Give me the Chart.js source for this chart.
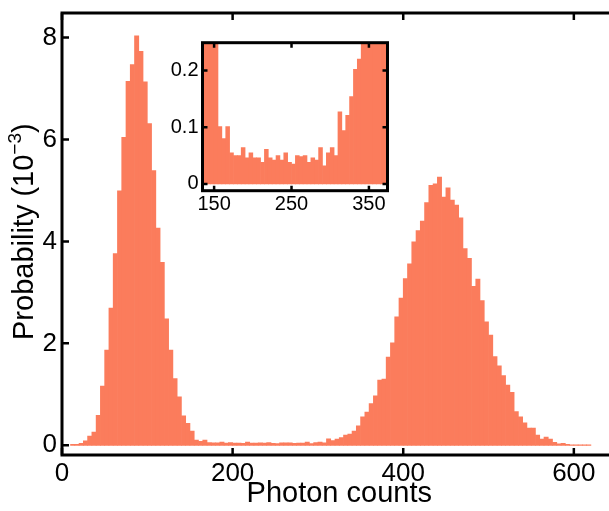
<!DOCTYPE html>
<html>
<head>
<meta charset="utf-8">
<script src="https://cdn.jsdelivr.net/npm/chart.js@4.4.1/dist/chart.umd.min.js"></script>
<style>
  html, body { margin: 0; padding: 0; background: #fff; overflow: hidden; }
  #wrap { position: relative; width: 609px; height: 511px; overflow: hidden; }
  #main { position: absolute; left: 0; top: 0; }
  #inset { position: absolute; left: 140px; top: 30px; }
</style>
</head>
<body>
<div id="wrap">
  <canvas id="main" width="620" height="511"></canvas>
  <canvas id="inset" width="260" height="195"></canvas>
</div>
<script>
// histogram: bins of 5 photon counts, first bin starts at 10
const FIRST_BIN = 10;
const BIN_WIDTH = 5;
// probability per bin, in units of 10^-3
const probability = [
  0.02, 0.02, 0.04, 0.09, 0.18, 0.26, 0.59, 1.16, 1.87, 2.69,      // 10-55
  3.76, 4.99, 6.04, 7.14, 7.47, 8.03, 7.73, 7.13, 6.31, 5.39,      // 60-105
  4.26, 3.59, 2.48, 1.87, 1.31, 0.95, 0.58, 0.43, 0.28, 0.101,     // 110-155
  0.080, 0.101, 0.055, 0.050, 0.050, 0.064, 0.046, 0.055, 0.046, 0.046, // 160-205
  0.038, 0.061, 0.046, 0.042, 0.050, 0.042, 0.055, 0.038, 0.035, 0.050, // 210-255
  0.048, 0.050, 0.038, 0.046, 0.042, 0.064, 0.032, 0.055, 0.064, 0.050, // 260-305
  0.127, 0.094, 0.121, 0.154, 0.202, 0.220, 0.28, 0.38, 0.56, 0.65,     // 310-355
  0.82, 0.97, 1.28, 1.30, 1.73, 2.01, 2.52, 2.89, 3.27, 3.56,      // 360-405
  3.99, 4.21, 4.40, 4.76, 5.10, 5.13, 5.26, 4.87, 5.05, 4.81,      // 410-455
  4.71, 4.46, 3.86, 3.67, 3.12, 3.26, 2.84, 2.42, 2.16, 1.74,      // 460-505
  1.56, 1.37, 1.18, 1.04, 0.66, 0.56, 0.44, 0.34, 0.34, 0.20,      // 510-555
  0.12, 0.16, 0.12, 0.06, 0.03, 0.04, 0.02, 0.01, 0.01, 0.01,      // 560-605
  0.01, 0.01                                                       // 610-615
];

const mainXTicks = [0, 200, 400, 600];
const mainYTicks = [0, 2, 4, 6, 8];
const insetXTicks = [150, 250, 350];
const insetYTicks = [0, 0.1, 0.2];

const BAR_COLOR = "rgb(251, 124, 92)";
const FONT = '"Liberation Sans", Arial, Helvetica, sans-serif';

Chart.defaults.font.family = FONT;
Chart.defaults.color = "#000";

const points = probability.map((p, i) => ({ x: FIRST_BIN + BIN_WIDTH * (i + 0.5), y: p }));

// black frame with inward ticks on all four sides
const frameTicks = {
  id: "frameTicks",
  afterDraw(chart, args, opts) {
    const { ctx, chartArea: a, scales } = chart;
    ctx.save();
    ctx.strokeStyle = "#000";
    ctx.lineWidth = opts.tickWidth;
    ctx.beginPath();
    scales.x.ticks.forEach((t) => {
      const px = scales.x.getPixelForValue(t.value);
      ctx.moveTo(px, a.bottom); ctx.lineTo(px, a.bottom - opts.len);
      ctx.moveTo(px, a.top); ctx.lineTo(px, a.top + opts.len);
    });
    scales.y.ticks.forEach((t) => {
      const py = scales.y.getPixelForValue(t.value);
      ctx.moveTo(a.left, py); ctx.lineTo(a.left + opts.len, py);
      ctx.moveTo(a.right, py); ctx.lineTo(a.right - opts.len, py);
    });
    ctx.stroke();
    ctx.lineWidth = opts.width;
    ctx.strokeRect(a.left, a.top, a.right - a.left, a.bottom - a.top);
    ctx.restore();
  },
};

// y title with a real superscript
const yTitle = {
  id: "yTitle",
  afterDraw(chart) {
    const ctx = chart.ctx;
    ctx.save();
    ctx.fillStyle = "#000";
    ctx.translate(33, 340);
    ctx.rotate(-Math.PI / 2);
    ctx.textAlign = "left";
    ctx.textBaseline = "alphabetic";
    ctx.font = "29px " + FONT;
    const t1 = "Probability (10";
    ctx.fillText(t1, 0, 0);
    let w = ctx.measureText(t1).width;
    ctx.font = "19px " + FONT;
    ctx.fillText("\u22123", w, -12);
    w += ctx.measureText("\u22123").width;
    ctx.font = "29px " + FONT;
    ctx.fillText(")", w, 0);
    ctx.restore();
  },
};

function noPad(s) {
  s.paddingTop = 0; s.paddingBottom = 0; s.paddingLeft = 0; s.paddingRight = 0;
}

function barDataset() {
  return {
    data: points,
    backgroundColor: BAR_COLOR,
    borderWidth: 0,
    barPercentage: 1,
    categoryPercentage: 1,
  };
}

new Chart(document.getElementById("main"), {
  type: "bar",
  data: { datasets: [barDataset()] },
  options: {
    responsive: false,
    animation: false,
    layout: { padding: { left: 0, top: 13, right: 3.5, bottom: 0 } },
    plugins: {
      legend: { display: false },
      tooltip: { enabled: false },
      frameTicks: { width: 3, tickWidth: 2.5, len: 7 },
    },
    scales: {
      x: {
        type: "linear",
        offset: false,
        min: 0,
        max: 650,
        grid: { display: false, drawTicks: false, offset: false },
        border: { display: false },
        afterBuildTicks: (s) => { s.ticks = mainXTicks.map((v) => ({ value: v })); },
        afterFit: (s) => { s.height = 56; noPad(s); },
        ticks: { font: { size: 26 }, padding: 3, maxRotation: 0 },
        title: { display: true, text: "Photon counts", font: { size: 29 }, padding: { top: 0, bottom: 0 } },
      },
      y: {
        min: -0.19,
        max: 8.48,
        grid: { display: false, drawTicks: false },
        border: { display: false },
        afterBuildTicks: (s) => { s.ticks = mainYTicks.map((v) => ({ value: v })); },
        afterFit: (s) => { s.width = 62; noPad(s); },
        ticks: { font: { size: 26 }, padding: 5 },
      },
    },
  },
  plugins: [frameTicks, yTitle],
});

new Chart(document.getElementById("inset"), {
  type: "bar",
  data: { datasets: [barDataset()] },
  options: {
    responsive: false,
    animation: false,
    layout: { padding: { left: 0, top: 12.7, right: 12.5, bottom: 0 } },
    plugins: {
      legend: { display: false },
      tooltip: { enabled: false },
      frameTicks: { width: 3, tickWidth: 2.5, len: 5 },
    },
    scales: {
      x: {
        type: "linear",
        offset: false,
        min: 135,
        max: 374,
        grid: { display: false, drawTicks: false, offset: false },
        border: { display: false },
        afterBuildTicks: (s) => { s.ticks = insetXTicks.map((v) => ({ value: v })); },
        afterFit: (s) => { s.height = 34.3; noPad(s); },
        ticks: { font: { size: 20 }, padding: 2, maxRotation: 0 },
      },
      y: {
        min: -0.012,
        max: 0.249,
        grid: { display: false, drawTicks: false },
        border: { display: false },
        afterBuildTicks: (s) => { s.ticks = insetYTicks.map((v) => ({ value: v })); },
        afterFit: (s) => { s.width = 62.5; noPad(s); },
        ticks: { font: { size: 20 }, padding: 4 },
      },
    },
  },
  plugins: [frameTicks],
});
</script>
</body>
</html>
